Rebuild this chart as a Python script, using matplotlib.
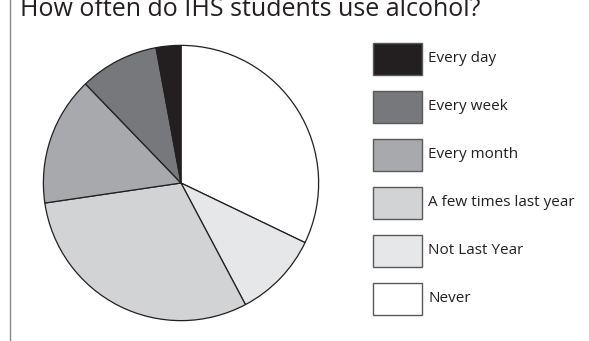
import matplotlib.pyplot as plt
from matplotlib.patches import Rectangle
from matplotlib.lines import Line2D

plt.rcParams['font.family'] = ['Open Sans', 'DejaVu Sans']

# data (percent of students)
labels = ["Every day", "Every week", "Every month",
          "A few times last year", "Not Last Year", "Never"]
shares = [2.9, 9.3, 15.1, 30.4, 10.1, 32.1]
colors = ["#231f20", "#77787b", "#a7a9ac", "#d1d3d4", "#e6e7e8", "#ffffff"]
title = "How often do IHS students use alcohol?"

W, H = 589, 341
fig = plt.figure(figsize=(W / 100, H / 100), dpi=100)
fig.patch.set_facecolor("white")


def px(x, y):
    # pixel coords (top-left origin) -> figure fraction
    return x / W, 1 - y / H


# pie, drawn clockwise from 12 o'clock starting with "Never"
cx, cy, r = 181, 183, 139
ax = fig.add_axes([(cx - r) / W, (H - cy - r) / H, 2 * r / W, 2 * r / H])
ax.pie(shares[::-1], colors=colors[::-1], startangle=90, counterclock=False,
       radius=1, wedgeprops=dict(edgecolor="#231f20", linewidth=0.9))
ax.set_xlim(-1.01, 1.01)
ax.set_ylim(-1.01, 1.01)
ax.set_aspect("equal")
ax.axis("off")

# thin gray rule on the left
fig.add_artist(Line2D([10 / W, 10 / W], [0, 1], color="#8a8a8a", lw=1.0,
                      transform=fig.transFigure))

# title, partly cut off at the top (as in the original)
fig.text(*px(20, 16), title, fontsize=18, color="#231f20", va="baseline", ha="left")

# legend
bx, by, bw, bh, step = 373, 43, 49, 32, 48
for i, (lab, col) in enumerate(zip(labels, colors)):
    y0 = by + i * step
    x0f, y1f = px(bx, y0 + bh)
    fig.add_artist(Rectangle((x0f, y1f), bw / W, bh / H, facecolor=col,
                             edgecolor="#58595b", lw=1.0, transform=fig.transFigure))
    fig.text(*px(bx + bw + 6, y0 + bh / 2), lab, fontsize=11, color="#231f20",
             va="center", ha="left")

fig.savefig("out.png", dpi=100)
